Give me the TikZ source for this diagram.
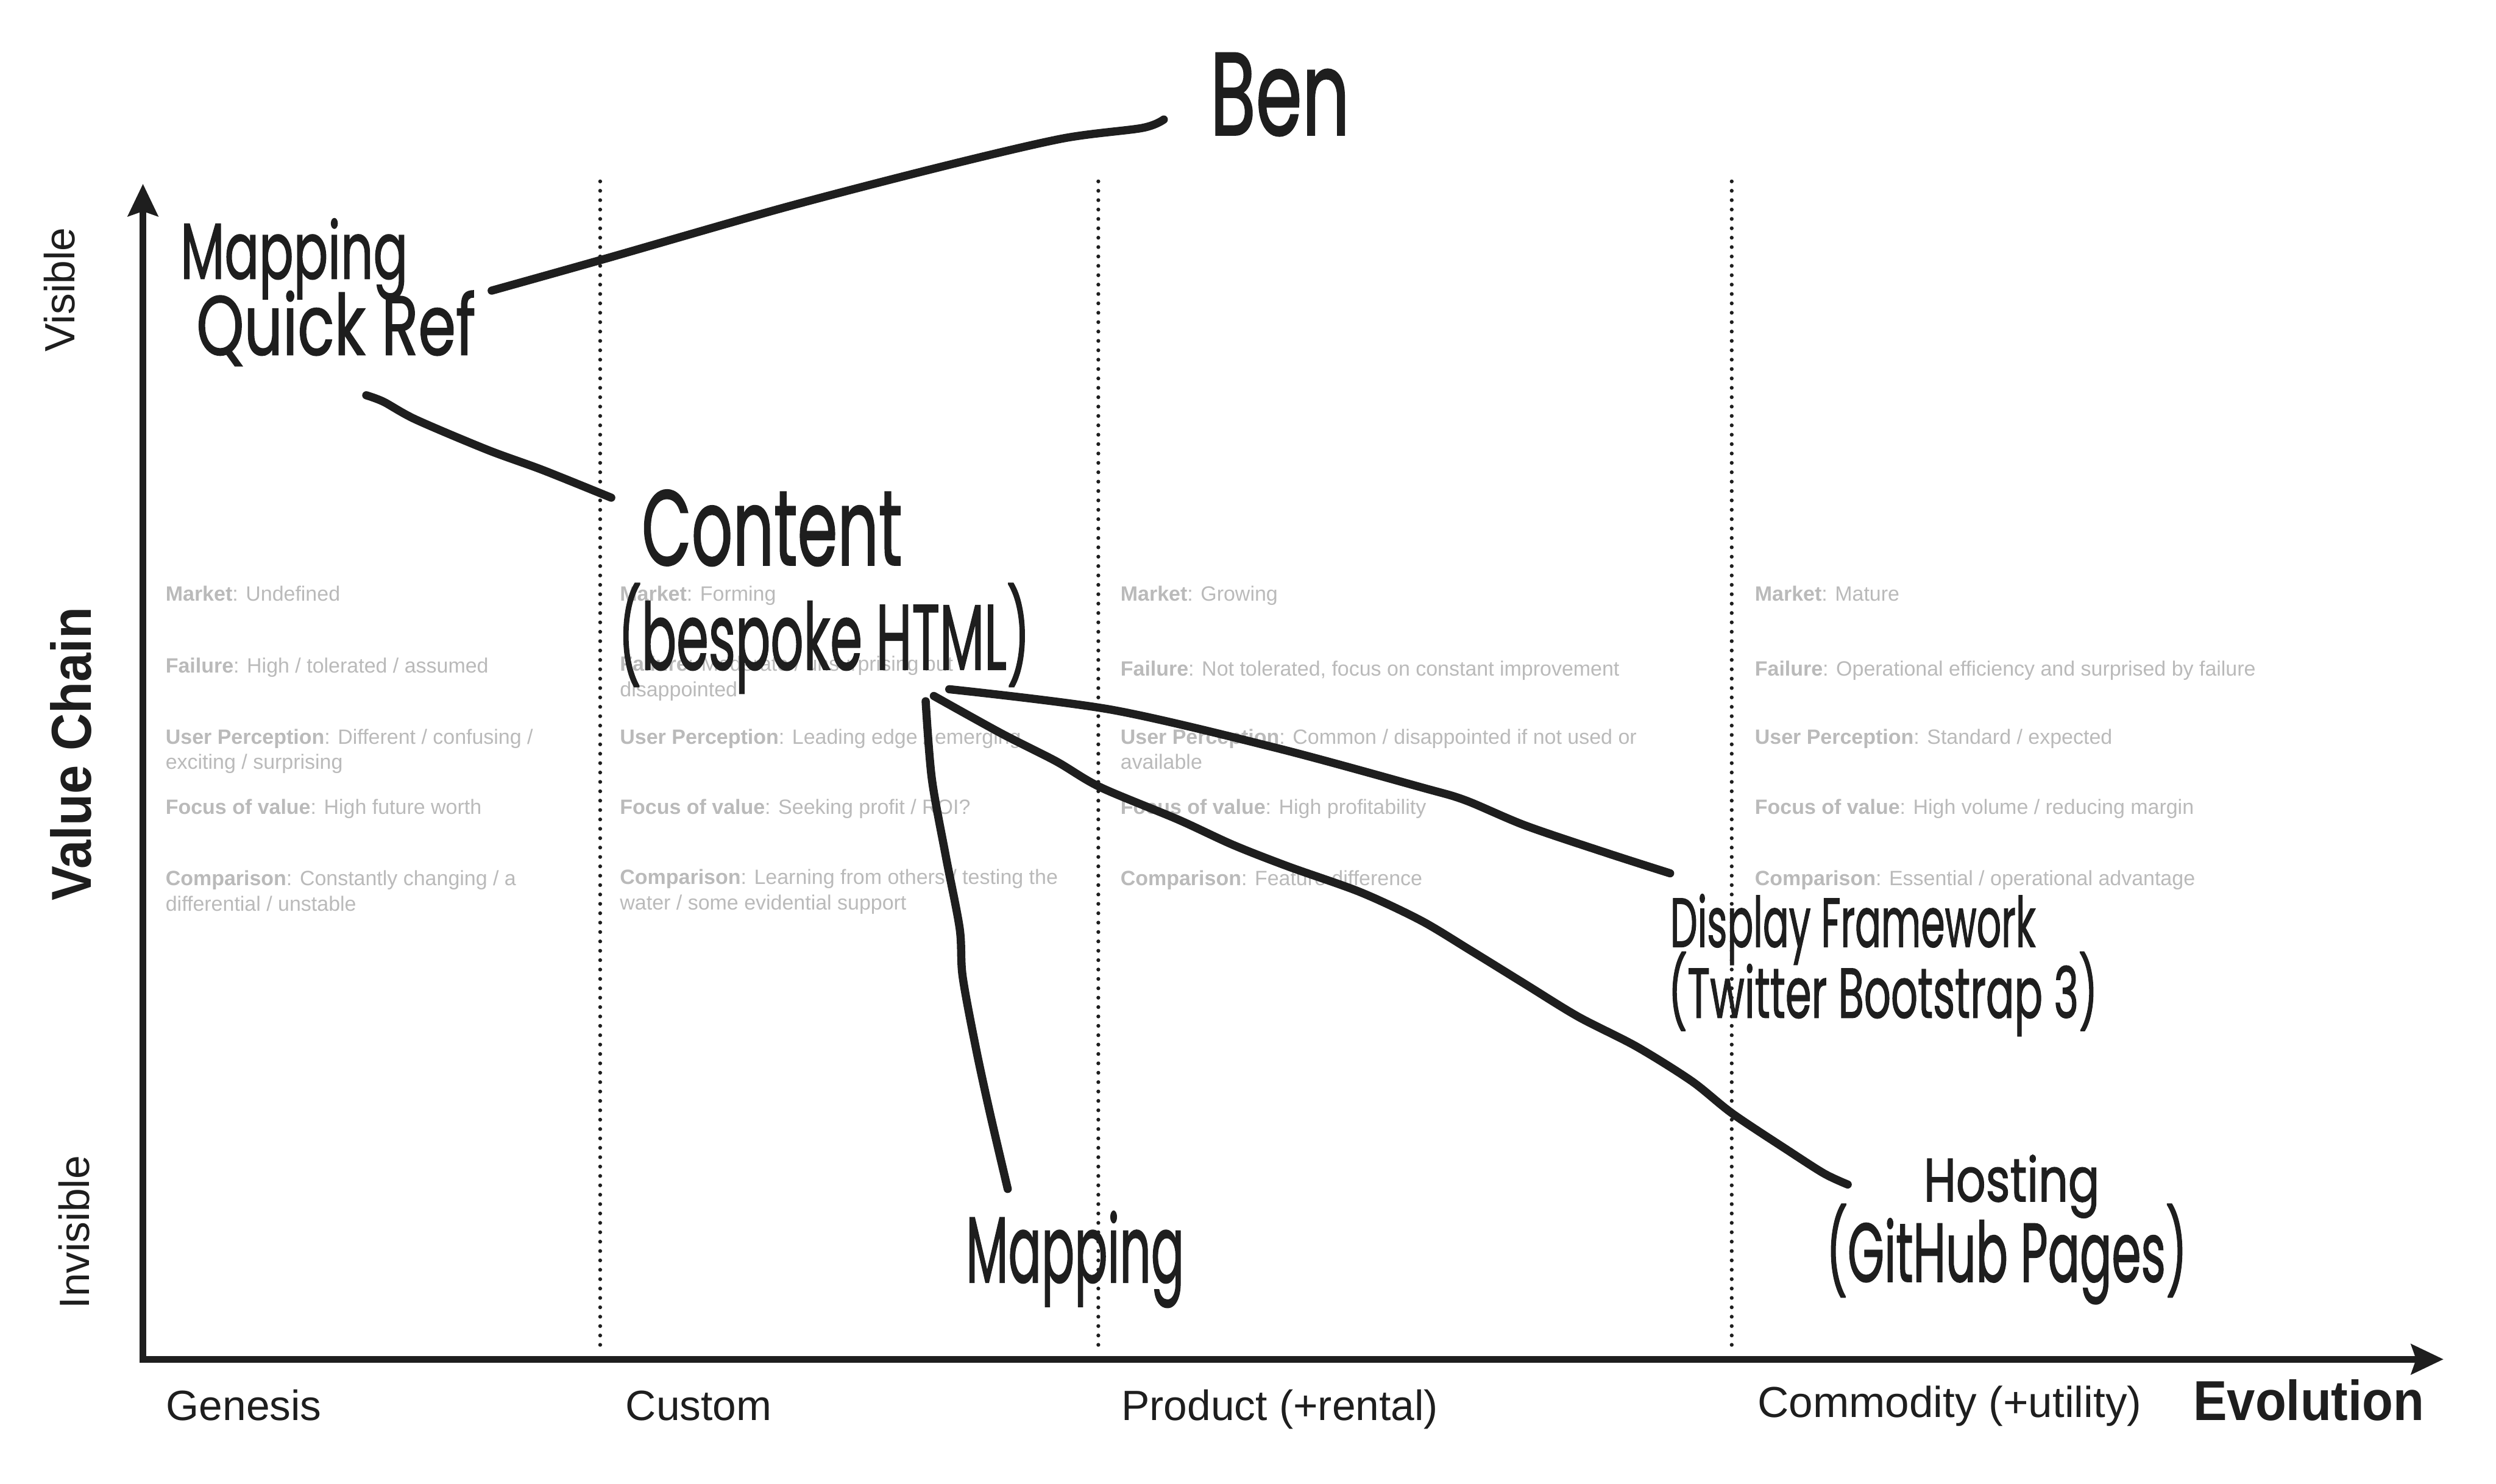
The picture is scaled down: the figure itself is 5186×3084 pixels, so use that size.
\documentclass[tikz,border=0pt]{standalone}
\usepackage{fontspec}
\usepackage{graphicx}
\setmainfont{Liberation Sans}
\newfontfamily\handfont[FakeBold=1.5]{Poppins}
\usetikzlibrary{arrows.meta}
\definecolor{ink}{HTML}{1E1E1E}
\definecolor{soft}{HTML}{BABABA}
\newcommand\gitem[2]{{\bfseries #1}: #2}
\newcommand\handtext[3]{\resizebox*{#1pt}{#2pt}{\handfont #3}}
\begin{document}
\begin{tikzpicture}[x=1pt,y=-1pt,
  axisline/.style={draw=ink, line width=14pt, -{Stealth[length=67pt,width=62pt,inset=10pt]}},
  divider/.style={draw=ink, line width=8pt, line cap=round, dash pattern=on 0pt off 19.5pt},
  greytext/.style={text=soft, font=\fontsize{43}{53}\selectfont, anchor=base west, inner sep=0pt},
  stage/.style={text=ink, font=\fontsize{88}{100}\selectfont, anchor=base west, inner sep=0pt},
  sidelabel/.style={text=ink, font=\fontsize{88}{100}\selectfont, rotate=90, anchor=base, inner sep=0pt},
  hand/.style={inner sep=0pt, anchor=north west, text=ink},
  inkline/.style={draw=ink, line width=17pt, line cap=round, line join=round},
]
\fill[white] (0,0) rectangle (5186,3084);
\useasboundingbox (0,0) rectangle (5186,3084);

% stage dividers
\draw[divider] (1247,377) -- (1247,2803);
\draw[divider] (2282,377) -- (2282,2803);
\draw[divider] (3598,377) -- (3598,2803);

% axes
\draw[axisline] (297,2832) -- (297,382);
\draw[axisline] (290,2825) -- (5077,2825);

% axis labels
\node[stage] (genesis) at (345,2952) {Genesis};
\node[stage] (custom) at (1300,2952) {Custom};
\node[stage] (product) at (2330,2952) {Product (+rental)};
\node[stage, font=\fontsize{90}{100}\selectfont] (commodity) at (3652,2945) {Commodity (+utility)};
\node[stage, font=\fontsize{117}{130}\selectfont\bfseries] (evolution) at (4557,2952) {\scalebox{0.9}[1]{Evolution}};
\node[sidelabel] (visible) at (155,602) {Visible};
\node[sidelabel] (invisible) at (185,2561) {Invisible};
\node[sidelabel, font=\fontsize{117}{130}\selectfont\bfseries] (valuechain) at (189,1567) {\scalebox{0.92}[1]{Value Chain}};

% stage characteristics
\node[greytext] (g1a) at (344,1249) {\gitem{Market}{Undefined}};
\node[greytext] (g1b) at (344,1398) {\gitem{Failure}{High / tolerated / assumed}};
\node[greytext] (g1c) at (344,1546) {\begin{tabular}[t]{@{}l@{}}\gitem{User Perception}{Different / confusing /}\\ exciting / surprising\end{tabular}};
\node[greytext] (g1d) at (344,1692) {\gitem{Focus of value}{High future worth}};
\node[greytext] (g1e) at (344,1840) {\begin{tabular}[t]{@{}l@{}}\gitem{Comparison}{Constantly changing / a}\\ differential / unstable\end{tabular}};

\node[greytext] (g2a) at (1288,1249) {\gitem{Market}{Forming}};
\node[greytext] (g2b) at (1288,1395) {\begin{tabular}[t]{@{}l@{}}\gitem{Failure}{Moderate / unsurprising but}\\ disappointed\end{tabular}};
\node[greytext] (g2c) at (1288,1546) {\gitem{User Perception}{Leading edge / emerging}};
\node[greytext] (g2d) at (1288,1692) {\gitem{Focus of value}{Seeking profit / ROI?}};
\node[greytext] (g2e) at (1288,1838) {\begin{tabular}[t]{@{}l@{}}\gitem{Comparison}{Learning from others / testing the}\\ water / some evidential support\end{tabular}};

\node[greytext] (g3a) at (2328,1249) {\gitem{Market}{Growing}};
\node[greytext] (g3b) at (2328,1405) {\gitem{Failure}{Not tolerated, focus on constant improvement}};
\node[greytext] (g3c) at (2328,1546) {\begin{tabular}[t]{@{}l@{}}\gitem{User Perception}{Common / disappointed if not used or}\\ available\end{tabular}};
\node[greytext] (g3d) at (2328,1692) {\gitem{Focus of value}{High profitability}};
\node[greytext] (g3e) at (2328,1840) {\gitem{Comparison}{Feature difference}};

\node[greytext] (g4a) at (3646,1249) {\gitem{Market}{Mature}};
\node[greytext] (g4b) at (3646,1405) {\gitem{Failure}{Operational efficiency and surprised by failure}};
\node[greytext] (g4c) at (3646,1546) {\gitem{User Perception}{Standard / expected}};
\node[greytext] (g4d) at (3646,1692) {\gitem{Focus of value}{High volume / reducing margin}};
\node[greytext] (g4e) at (3646,1840) {\gitem{Comparison}{Essential / operational advantage}};

% handwritten components
\node[hand] (ben) at (2514,110) {\handtext{290}{172}{Ben}};
\node[hand] (qrA) at (375,454) {\handtext{472}{169}{Mapping}};
\node[hand] (qrB) at (408,604) {\handtext{580}{156}{Quick Ref}};
\node[hand] (content) at (1333,1018) {\handtext{541}{158}{Content}};
\node[hand] (contentB) at (1284,1212) {\handtext{856}{229}{(bespoke HTML)}};
\node[hand] (dfA) at (3470,1858) {\handtext{759}{147}{Display Framework}};
\node[hand] (dfB) at (3466,1978) {\handtext{892}{175}{(Twitter Bootstrap 3)}};
\node[hand] (hostA) at (3997,2400) {\handtext{365}{131}{Hosting}};
\node[hand] (hostB) at (3794,2502) {\handtext{750}{208}{(GitHub Pages)}};
\node[hand] (mapping) at (2007,2517) {\handtext{453}{200}{Mapping}};

% connector end points
\coordinate (benL) at ([shift={(33,0)}]qrB.north east);
\coordinate (benR) at ([shift={(-96,52)}]ben.west);
\coordinate (qrOut) at ([shift={(353,61)}]qrB.south west);
\coordinate (contentIn) at ([shift={(-63,-63)}]content.west);
\coordinate (cMap) at ([shift={(211,16)}]contentB.south);
\coordinate (mapIn) at ([shift={(-140,-46)}]mapping.north);
\coordinate (cDF) at ([shift={(260,-9)}]contentB.south);
\coordinate (dfIn) at ([shift={(0,-43)}]dfA.north west);
\coordinate (cHost) at ([shift={(228,5)}]contentB.south);
\coordinate (hostIn) at ([shift={(-158,-4)}]hostA.west);

% connectors
\draw[inkline] plot[smooth] coordinates {(benL) (1253,539) (1627,432) (1958,346) (2207,288) (2373,266) (benR)};
\draw[inkline] plot[smooth] coordinates {(qrOut) (797,835) (864,872) (1013,935) (1128,977) (contentIn)};
\draw[inkline] plot[smooth] coordinates {(cMap) (1936,1618) (1965,1779) (1994,1930) (2000,2029) (2028,2180) (2057,2314) (mapIn)};
\draw[inkline] plot[smooth] coordinates {(cDF) (2309,1475) (2654,1555) (2952,1636) (3044,1663) (3170,1716) (3342,1774) (dfIn)};
\draw[inkline] plot[smooth] coordinates {(cHost) (2080,1524) (2194,1582) (2286,1636) (2447,1703) (2562,1756) (2677,1801) (2826,1854) (2952,1913) (3055,1975) (3170,2046) (3279,2113) (3400,2175) (3515,2247) (3599,2314) (3715,2391) (3790,2439) (hostIn)};
\end{tikzpicture}
\end{document}
